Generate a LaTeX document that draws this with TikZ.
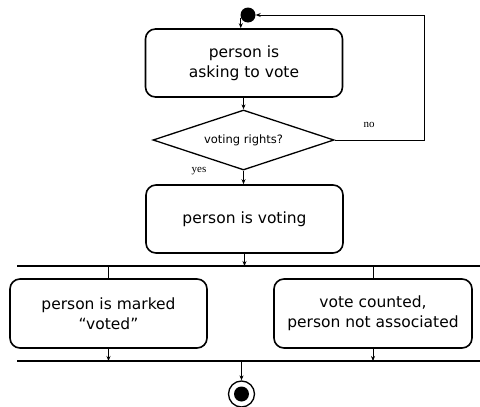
\documentclass[tikz,border=0pt]{standalone}
\usepackage{fontspec}
\setmainfont{DejaVu Sans}
\newfontfamily\lblserif{Liberation Serif}
\usetikzlibrary{shapes.geometric,arrows.meta}
\begin{document}
\begin{tikzpicture}[x=1pt,y=-1pt,
  act/.style={draw,line width=1.6pt,rounded corners=10pt,minimum width=197pt,minimum height=68pt,align=center,inner sep=0pt,font=\fontsize{15.5}{20}\selectfont},
  arr/.style={line width=0.9pt,-{Stealth[length=5pt,width=4pt]}},
  plain/.style={line width=0.9pt},
  bar/.style={line width=2pt},
  lbl/.style={font=\lblserif\fontsize{11}{12}\selectfont,inner sep=0pt}]
\useasboundingbox (0,0) rectangle (480,407);
\node[circle,fill,inner sep=0pt,minimum size=15pt] (init) at (248,15) {};
\node[act] (b1) at (244,63) {person is\\asking to vote};
\node[diamond,draw,line width=1.3pt,minimum width=181pt,minimum height=60pt,inner sep=0pt,aspect=3,font=\fontsize{11.5}{13}\selectfont] (dec) at (243.5,140) {voting rights?};
\node[act] (b2) at (244.5,219) {person is voting};
\node[act,minimum height=69pt] (b3) at (108.5,313.5) {person is marked\\“voted”};
\node[act,minimum width=198pt,minimum height=69pt] (b4) at (373,313.5) {vote counted,\\person not associated};
\node[circle,draw,line width=1.3pt,inner sep=0pt,minimum size=26pt] (fin) at (241.5,394) {};
\node[circle,fill,inner sep=0pt,minimum size=15pt] (finin) at (241.5,394) {};
\coordinate (bar1L) at (17,266);
\coordinate (bar1R) at (480,266);
\coordinate (bar2L) at (17,361);
\coordinate (bar2R) at (480,361);
\coordinate (lp) at (424,15);
\draw[bar] (bar1L) -- (bar1R);
\draw[bar] (bar2L) -- (bar2R);
\draw[arr] (init.200) -- (init.200 |- b1.north);
\draw[arr] (dec.north |- b1.south) -- (dec.north);
\draw[arr] (dec.south) -- (dec.south |- b2.north);
\draw[arr] (dec.east) -| (lp) -- (init.east);
\draw[arr] (b2.south) -- (b2.south |- bar1L);
\draw[plain] (b3.north |- bar1L) -- (b3.north);
\draw[plain] (b4.north |- bar1L) -- (b4.north);
\draw[arr] (b3.south) -- (b3.south |- bar2L);
\draw[arr] (b4.south) -- (b4.south |- bar2L);
\draw[arr] (fin.north |- bar2L) -- (fin.north);
\node[lbl] (yes) at (199,171) {yes};
\node[lbl] (no) at (369,125) {no};
\end{tikzpicture}
\end{document}
